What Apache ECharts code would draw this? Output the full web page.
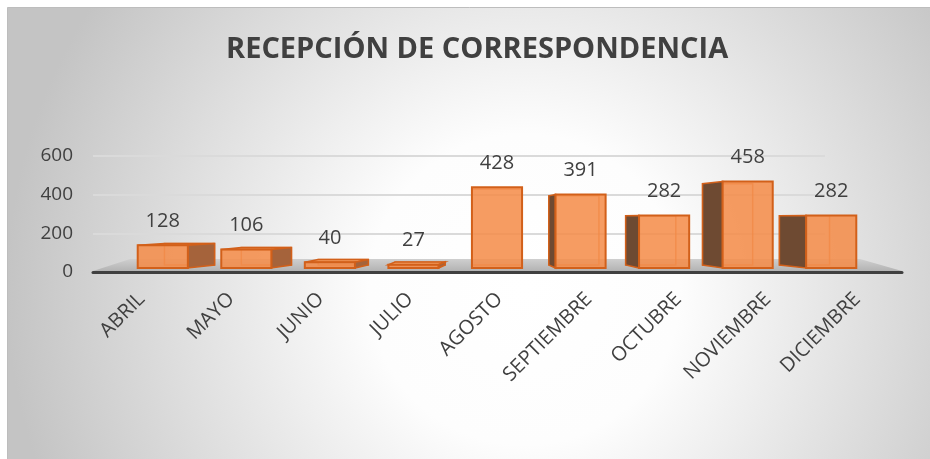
<!DOCTYPE html>
<html>
<head>
<meta charset="utf-8">
<script src="https://cdn.jsdelivr.net/npm/echarts@6/dist/echarts.min.js"></script>
<style>
  html, body { margin: 0; padding: 0; background: #fff; }
  #chart { width: 930px; height: 459px; }
</style>
</head>
<body>
<div id="chart"></div>
<script>
// datos
var meses = ['ABRIL', 'MAYO', 'JUNIO', 'JULIO', 'AGOSTO', 'SEPTIEMBRE', 'OCTUBRE', 'NOVIEMBRE', 'DICIEMBRE'];
var recibidos = [128, 106, 40, 27, 428, 391, 282, 458, 282];
var ticksY = [0, 200, 400, 600];

var chart = echarts.init(document.getElementById('chart'));

// caja 3D en perspectiva (cara frontal, lateral y superior)
function renderCaja(params, api) {
  var i = api.value(0);
  var v = api.value(1);
  var base = api.coord([i, 0]);
  var top = api.coord([i, v]);
  var ancho = api.size([1, 0])[0] * 0.6;
  var cs = params.coordSys;
  var cx = base[0];
  var yb = base[1] - 4;
  var yt = top[1] - 2;
  var xl = cx - ancho / 2, xr = cx + ancho / 2;
  var vx = cs.x + cs.width / 2;
  var dx = (vx - cx) * 0.08;
  var hy = yb - 50;
  var s = 0.94;
  var ytb = hy + s * (yt - hy);
  var ybb = hy + s * (yb - hy);
  var kids = [];
  var borde = '#D2601A';

  // aristas traseras (se ven a traves)
  kids.push({
    type: 'rect',
    shape: { x: xl + dx, y: ytb, width: ancho, height: ybb - ytb },
    style: { fill: null, stroke: 'rgba(220,110,40,0.7)', lineWidth: 1.5 }
  });
  // cara superior
  if (ytb < yt) {
    kids.push({
      type: 'polygon',
      shape: { points: [[xl, yt], [xr, yt], [xr + dx, ytb], [xl + dx, ytb]] },
      style: { fill: '#F29A5C', stroke: borde, lineWidth: 1.5 }
    });
  }
  // cara lateral
  if (Math.abs(dx) > 1) {
    var xe = dx > 0 ? xr : xl;
    kids.push({
      type: 'polygon',
      shape: { points: [[xe, yt], [xe + dx, ytb], [xe + dx, ybb], [xe, yb]] },
      style: { fill: dx > 0 ? '#A5633B' : '#6E4A32', stroke: borde, lineWidth: 1.5 }
    });
  }
  // cara frontal
  kids.push({
    type: 'rect',
    shape: { x: xl, y: yt, width: ancho, height: yb - yt },
    style: { fill: 'rgba(244,140,72,0.86)', stroke: borde, lineWidth: 2 }
  });
  // etiqueta
  kids.push({
    type: 'text',
    style: {
      x: cx, y: yt - 24, text: String(v),
      fill: '#404040', font: '20px "Open Sans"',
      align: 'center', verticalAlign: 'middle'
    }
  });
  return { type: 'group', children: kids };
}

// piso gris bajo las barras
function renderPiso(params, api) {
  var cs = params.coordSys;
  var y0 = cs.y + cs.height;
  return {
    type: 'polygon',
    shape: { points: [[cs.x, y0 - 1], [cs.x + 37, y0 - 13], [cs.x + cs.width - 42, y0 - 13], [cs.x + cs.width, y0 - 1]] },
    style: {
      fill: new echarts.graphic.LinearGradient(0, 0, 0, 1, [
        { offset: 0, color: '#cfcfcf' }, { offset: 1, color: '#b3b3b3' }
      ])
    }
  };
}

var option = {
  backgroundColor: '#ffffff',
  animation: false,
  graphic: [{
    type: 'rect', z: -10, silent: true,
    shape: { x: 7.5, y: 7.5, width: 940, height: 470 },
    style: {
      fill: new echarts.graphic.RadialGradient(0.55, 0.6, 1.1, [
        { offset: 0, color: '#ffffff' },
        { offset: 0.3, color: '#fdfdfd' },
        { offset: 1, color: '#c4c4c4' }
      ]),
      stroke: '#bdbdbd', lineWidth: 1
    }
  }],
  title: {
    text: 'RECEPCIÓN DE CORRESPONDENCIA',
    left: 221,
    top: 30,
    textStyle: { fontFamily: 'Open Sans', fontWeight: 'bold', fontSize: 29, color: '#404040' }
  },
  grid: [
    { left: 93, right: 105, top: 156, bottom: 187 },
    { left: 93, right: 28, top: 156, bottom: 187 },
    { left: 121, right: 57, top: 156, bottom: 187 },
    { left: 97, right: 28, top: 156, bottom: 187 }
  ],
  xAxis: [
    { gridIndex: 0, type: 'value', show: false, min: 0, max: 1 },
    {
      gridIndex: 1, type: 'value', min: 0, max: 1,
      axisLine: { show: true, lineStyle: { color: '#404040', width: 3 } },
      axisTick: { show: false }, axisLabel: { show: false }, splitLine: { show: false }
    },
    {
      gridIndex: 2, type: 'category', data: meses,
      axisLine: { show: false }, axisTick: { show: false }, axisLabel: { show: false }
    },
    {
      // etiquetas de meses, repartidas como en la vista en perspectiva
      gridIndex: 3, type: 'category', data: meses,
      axisLine: { show: false }, axisTick: { show: false },
      axisLabel: {
        rotate: 45, margin: 24, interval: 0,
        fontFamily: 'Open Sans', fontSize: 20, color: '#404040'
      }
    }
  ],
  yAxis: [
    {
      gridIndex: 0, type: 'value', min: 0, max: 600, interval: 200,
      axisLine: { show: false }, axisTick: { show: false },
      axisLabel: { margin: 20, fontFamily: 'Open Sans', fontSize: 19, color: '#404040' },
      splitLine: { lineStyle: { color: '#dadada', width: 2 } }
    },
    { gridIndex: 1, type: 'value', min: 0, max: 600, show: false },
    { gridIndex: 2, type: 'value', min: 0, max: 600, show: false },
    { gridIndex: 3, type: 'value', min: 0, max: 600, show: false }
  ],
  series: [
    {
      type: 'custom', xAxisIndex: 1, yAxisIndex: 1,
      renderItem: renderPiso, data: [[0, 0]], silent: true, z: 1
    },
    {
      type: 'custom', xAxisIndex: 2, yAxisIndex: 2,
      renderItem: renderCaja,
      data: meses.map(function (m, i) { return [i, recibidos[i]]; }),
      z: 3
    }
  ]
};
chart.setOption(option);
</script>
</body>
</html>
